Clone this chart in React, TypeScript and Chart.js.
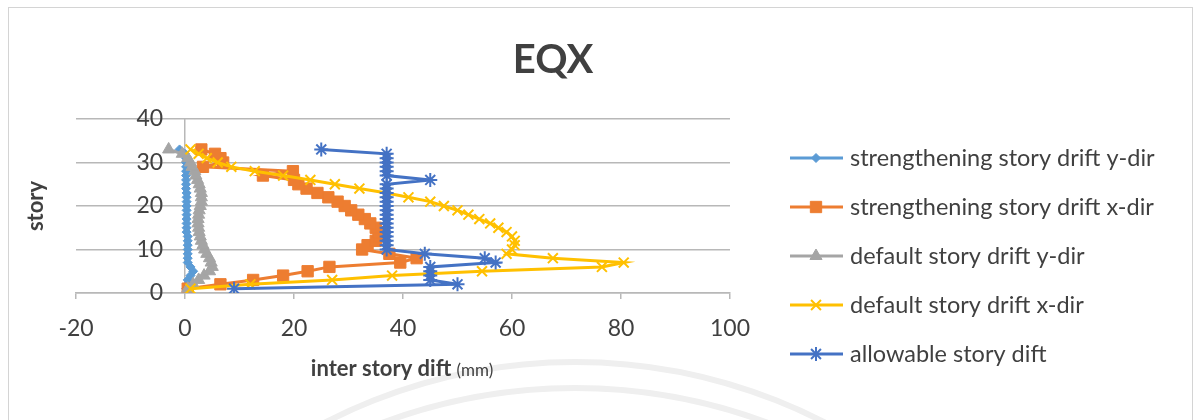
import React, { useEffect, useRef } from "react";
import { Chart, registerables } from "chart.js";
import { drawPoint } from "chart.js/helpers";

Chart.register(...registerables);

// ---------- data ----------
const stories = [1, 2, 3, 4, 5, 6, 7, 8, 9, 10, 11, 12, 13, 14, 15, 16, 17, 18, 19, 20, 21, 22, 23, 24, 25, 26, 27, 28, 29, 30, 31, 32, 33];

const strengtheningY = [0.2, 0.5, 0.5, 1, 1.5, 1, 0.5, 0.5, 0.5, 0.5, 0.5, 0.5, 0.5, 0.3, 0.3, 0.3, 0.3, 0.3, 0.3, 0.3, 0.3, 0.3, 0.3, 0.2, 0.2, 0.2, 0.2, 0.2, 0.2, 0.2, 0.2, 0, -1];

const strengtheningX = [0.5, 6.5, 12.5, 18, 22.5, 26.5, 39.5, 42.5, 37.5, 32.5, 33.5, 35, 35.8, 35.5, 35, 34, 33, 31.8, 30.5, 29.3, 28, 26.3, 24.3, 22.3, 20.8, 20, 14.3, 19.8, 3.3, 7, 6.5, 5.5, 3];

const defaultY = [0.5, 1.5, 2.5, 3.5, 4.5, 5, 4.8, 4.5, 4, 3.6, 3.3, 3, 2.8, 2.6, 2.5, 2.4, 2.4, 2.5, 2.6, 2.8, 3, 3, 3, 2.8, 2.6, 2.3, 2, 1.8, 1.3, 1, 0.5, -0.5, -3];

const defaultX = [1, 12, 27, 38, 54.5, 76.5, 80.5, 67.5, 59, 60, 60.5, 60.5, 60, 59, 57.5, 56, 54, 52, 50, 47.5, 45, 41, 37, 32, 27.5, 23, 18, 12.8, 8.5, 6, 4, 2.5, 1];

const allowable = [9, 50, 45, 45, 45, 45, 57, 55, 44, 37, 37, 37, 37, 37, 37, 37, 37, 37, 37, 37, 37, 37, 37, 37, 37, 45, 37, 37, 37, 37, 37, 37, 25];

const seriesLabels = [
  "strengthening story drift y-dir",
  "strengthening story drift x-dir",
  "default story drift y-dir",
  "default story drift x-dir",
  "allowable story dift",
];

const xTicks = [-20, 0, 20, 40, 60, 80, 100];
const yTicks = [0, 10, 20, 30, 40];

const chartTitle = "EQX";
const yTitle = "story";
const xTitleMain = "inter story dift ";
const xTitleUnit = "(mm)";

// ---------- styles ----------
const FONT = "Lato, 'Open Sans', sans-serif";
const colors = ["#5B9BD5", "#ED7D31", "#A5A5A5", "#FFC000", "#4472C4"];
const pointStyles = ["rectRot", "rect", "triangle", "crossRot", "star"];
const pointRadii = [4.5, 8, 7, 7, 7];

const toPoints = (xs: number[]) => xs.map((x, i) => ({ x, y: stories[i] }));

const decorPlugin = {
  id: "decor",
  beforeDraw(chart: any) {
    const ctx = chart.ctx as CanvasRenderingContext2D;
    ctx.save();
    ctx.fillStyle = "#ffffff";
    ctx.fillRect(0, 0, chart.width, chart.height);
    // faint watermark arcs
    ctx.strokeStyle = "#efefef";
    ctx.lineWidth = 6;
    ctx.beginPath();
    ctx.arc(575, 908, 546, Math.PI, 2 * Math.PI);
    ctx.stroke();
    ctx.beginPath();
    ctx.arc(575, 939, 551, Math.PI, 2 * Math.PI);
    ctx.stroke();
    // chart border
    ctx.strokeStyle = "#d4d4d4";
    ctx.lineWidth = 1;
    ctx.strokeRect(8.5, 7.5, 1184, 440);
    ctx.restore();
  },
  afterDraw(chart: any) {
    const ctx = chart.ctx as CanvasRenderingContext2D;
    ctx.save();
    ctx.fillStyle = "#404040";
    ctx.textBaseline = "middle";
    // title
    ctx.textAlign = "center";
    ctx.font = `bold 40px ${FONT}`;
    ctx.fillText(chartTitle, 553, 60);
    // y title
    ctx.save();
    ctx.translate(36, 206);
    ctx.rotate(-Math.PI / 2);
    ctx.font = `bold 22px ${FONT}`;
    ctx.fillText(yTitle, 0, 0);
    ctx.restore();
    // x title
    ctx.textAlign = "left";
    ctx.font = `bold 22px ${FONT}`;
    const wa = ctx.measureText(xTitleMain).width;
    ctx.font = `17px ${FONT}`;
    const wb = ctx.measureText(xTitleUnit).width;
    const start = 402 - (wa + wb) / 2;
    ctx.font = `bold 22px ${FONT}`;
    ctx.fillText(xTitleMain, start, 369);
    ctx.font = `17px ${FONT}`;
    ctx.fillText(xTitleUnit, start + wa, 371);
    // legend
    chart.data.datasets.forEach((ds: any, i: number) => {
      const y = 158 + i * 49;
      ctx.strokeStyle = ds.borderColor;
      ctx.lineWidth = 3;
      ctx.beginPath();
      ctx.moveTo(790, y);
      ctx.lineTo(843, y);
      ctx.stroke();
      ctx.fillStyle = ds.pointBackgroundColor;
      ctx.strokeStyle = ds.pointBorderColor;
      ctx.lineWidth = ds.pointBorderWidth;
      drawPoint(ctx, { pointStyle: ds.pointStyle, radius: ds.pointRadius, rotation: 0, borderWidth: ds.pointBorderWidth }, 816, y);
      ctx.fillStyle = "#404040";
      ctx.font = `23.5px ${FONT}`;
      ctx.fillText(ds.label, 850, y);
    });
    ctx.restore();
  },
};

export default function App() {
  const ref = useRef<HTMLCanvasElement | null>(null);
  useEffect(() => {
    if (!ref.current) return;
    const series = [strengtheningY, strengtheningX, defaultY, defaultX, allowable];
    const chart = new Chart(ref.current, {
      type: "scatter",
      data: {
        datasets: series.map((xs, i) => ({
          label: seriesLabels[i],
          data: toPoints(xs),
          showLine: true,
          borderColor: colors[i],
          backgroundColor: colors[i],
          borderWidth: 3,
          pointStyle: pointStyles[i],
          pointRadius: pointRadii[i],
          pointBackgroundColor: colors[i],
          pointBorderColor: colors[i],
          pointBorderWidth: i >= 3 ? 2 : 1,
          tension: 0,
          order: 4 - i,
        })),
      },
      options: {
        responsive: false,
        animation: false,
        layout: { padding: { left: 76, right: 470, top: 119, bottom: 0 } },
        plugins: {
          legend: { display: false },
          title: { display: false },
          tooltip: { enabled: false },
        },
        scales: {
          x: {
            type: "linear",
            min: -20,
            max: 100,
            afterBuildTicks: (s: any) => {
              s.ticks = xTicks.map((v) => ({ value: v }));
            },
            afterFit: (s: any) => {
              s.height = 127;
            },
            grid: { drawOnChartArea: false, drawTicks: true, tickLength: 6, color: "#b8b8b8", lineWidth: 1.5 },
            border: { display: true, color: "#b8b8b8", width: 1.5 },
            ticks: { color: "#404040", font: { family: FONT, size: 23 }, padding: 16, maxRotation: 0 },
          },
          y: {
            type: "linear",
            position: { x: 0 } as any,
            min: 0,
            max: 40,
            afterBuildTicks: (s: any) => {
              s.ticks = yTicks.map((v) => ({ value: v }));
            },
            grid: { color: "#b8b8b8", lineWidth: 1.5, drawTicks: false },
            border: { display: true, color: "#b8b8b8", width: 1.5 },
            ticks: { display: false },
          },
          yLabels: {
            type: "linear",
            position: { x: -4 } as any,
            min: 0,
            max: 40,
            afterBuildTicks: (s: any) => {
              s.ticks = yTicks.map((v) => ({ value: v }));
            },
            grid: { display: false, drawTicks: false },
            border: { display: false },
            ticks: { color: "#404040", font: { family: FONT, size: 23 }, padding: 0 },
          },
        },
      },
      plugins: [decorPlugin],
    });
    return () => chart.destroy();
  }, []);
  return (
    <div style={{ position: "absolute", left: 0, top: 0, width: 1200, height: 420 }}>
      <canvas ref={ref} width={1200} height={420} style={{ width: 1200, height: 420, display: "block" }} />
    </div>
  );
}
